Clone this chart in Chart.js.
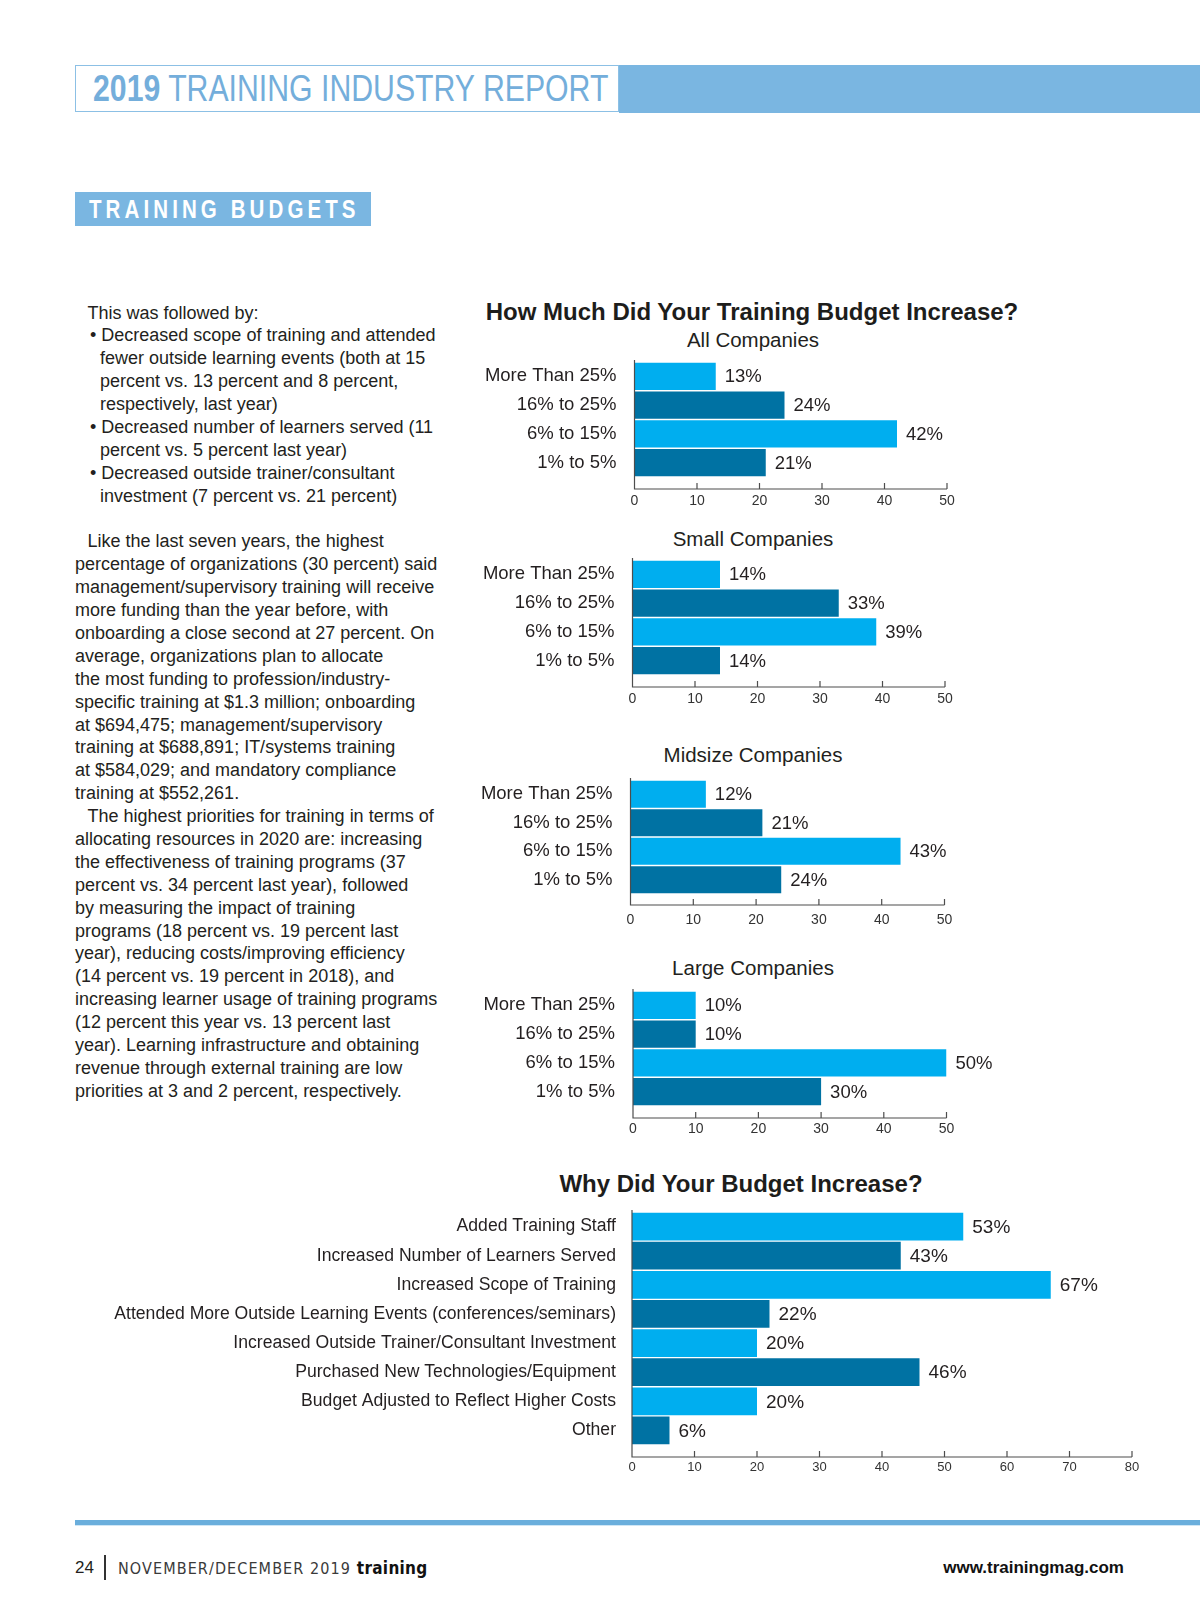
<!DOCTYPE html>
<html>
<head>
<meta charset="utf-8">
<title>2019 Training Industry Report - Training Budgets</title>
<script src="https://cdn.jsdelivr.net/npm/chart.js@4.4.1/dist/chart.umd.min.js"></script>
<style>
  html, body { margin: 0; padding: 0; background: #fff; }
  #page { position: relative; width: 1200px; height: 1613px; overflow: hidden; color: #231f20;
          font-family: "Liberation Sans", Arial, sans-serif; }
  .abs { position: absolute; white-space: nowrap; }
  canvas { position: absolute; }
  /* no narrow face installed: squeeze the regular one */
  .cond { transform: scaleX(0.82); transform-origin: 0 50%; }

  #hdrBox { left: 75px; top: 65px; width: 542px; height: 45px; border: 1.5px solid #8cc0e5; background: #fff; }
  #hdrBar { left: 619px; top: 65px; width: 581px; height: 48px; background: #7ab6e1; }
  #hdrText { left: 93px; top: 65px; height: 48px; line-height: 48px; font-size: 36px; color: #74aedb;
             transform: scaleX(0.84); }
  #hdrText b { font-weight: bold; }

  #secBox { left: 75px; top: 192px; width: 296px; height: 34px; background: #7ab6e1; }
  #secText { left: 89px; top: 192px; height: 34px; line-height: 35px; font-size: 25px; font-weight: bold;
             color: #fff; letter-spacing: 5px; }

  #body { left: 75px; top: 301.5px; font-size: 18px; line-height: 22.9px; color: #231f20; }
  #body div { height: 22.9px; }
  #body .ind0 { padding-left: 12.5px; }
  #body .bul { padding-left: 15px; }
  #body .cont { padding-left: 25px; }

  .title { font-weight: bold; font-size: 24px; color: #1d1d1b; text-align: center; line-height: 30px; }
  .sub { font-size: 20.5px; text-align: center; width: 300px; line-height: 26px; }

  #rule { left: 75px; top: 1520px; width: 1125px; height: 5px; background: #6aaedc; border-bottom: 1px solid #cfe6f5; }
  .foot { top: 1556px; line-height: 24px; height: 24px; }
</style>
</head>
<body>
<div id="page">
  <div class="abs" id="hdrBox"></div>
  <div class="abs" id="hdrBar"></div>
  <div class="abs cond" id="hdrText"><b>2019</b> TRAINING INDUSTRY REPORT</div>

  <div class="abs" id="secBox"></div>
  <div class="abs cond" id="secText">TRAINING BUDGETS</div>

  <div class="abs" id="body">
    <div class="ind0">This was followed by:</div>
    <div class="bul">• Decreased scope of training and attended</div>
    <div class="cont">fewer outside learning events (both at 15</div>
    <div class="cont">percent vs. 13 percent and 8 percent,</div>
    <div class="cont">respectively, last year)</div>
    <div class="bul">• Decreased number of learners served (11</div>
    <div class="cont">percent vs. 5 percent last year)</div>
    <div class="bul">• Decreased outside trainer/consultant</div>
    <div class="cont">investment (7 percent vs. 21 percent)</div>
    <div></div>
    <div class="ind0">Like the last seven years, the highest</div>
    <div>percentage of organizations (30 percent) said</div>
    <div>management/supervisory training will receive</div>
    <div>more funding than the year before, with</div>
    <div>onboarding a close second at 27 percent. On</div>
    <div>average, organizations plan to allocate</div>
    <div>the most funding to profession/industry-</div>
    <div>specific training at $1.3 million; onboarding</div>
    <div>at $694,475; management/supervisory</div>
    <div>training at $688,891; IT/systems training</div>
    <div>at $584,029; and mandatory compliance</div>
    <div>training at $552,261.</div>
    <div class="ind0">The highest priorities for training in terms of</div>
    <div>allocating resources in 2020 are: increasing</div>
    <div>the effectiveness of training programs (37</div>
    <div>percent vs. 34 percent last year), followed</div>
    <div>by measuring the impact of training</div>
    <div>programs (18 percent vs. 19 percent last</div>
    <div>year), reducing costs/improving efficiency</div>
    <div>(14 percent vs. 19 percent in 2018), and</div>
    <div>increasing learner usage of training programs</div>
    <div>(12 percent this year vs. 13 percent last</div>
    <div>year). Learning infrastructure and obtaining</div>
    <div>revenue through external training are low</div>
    <div>priorities at 3 and 2 percent, respectively.</div>
  </div>

  <div class="abs title" style="left:452px; top:297px; width:600px;">How Much Did Your Training Budget Increase?</div>
  <div class="abs sub" style="left:603px; top:327px;">All Companies</div>
  <div class="abs sub" style="left:603px; top:526px;">Small Companies</div>
  <div class="abs sub" style="left:603px; top:742px;">Midsize Companies</div>
  <div class="abs sub" style="left:603px; top:955px;">Large Companies</div>

  <canvas id="cAll"></canvas>
  <canvas id="cSmall"></canvas>
  <canvas id="cMid"></canvas>
  <canvas id="cLarge"></canvas>

  <div class="abs title" style="left:441px; top:1169px; width:600px;">Why Did Your Budget Increase?</div>
  <canvas id="cWhy"></canvas>

  <div class="abs" id="rule"></div>
  <div class="abs foot" style="left:75px; font-size:17px;">24</div>
  <div class="abs" style="left:104px; top:1555px; width:1.5px; height:25px; background:#333;"></div>
  <div class="abs foot" style="left:118px; font-family:'DejaVu Sans Condensed', sans-serif; font-size:16px; letter-spacing:1.1px; color:#3a3a3a;">NOVEMBER/DECEMBER 2019 <b style="color:#111; letter-spacing:0.3px; font-size:17px;">training</b></div>
  <div class="abs foot" style="right:76px; font-size:17px; font-weight:bold; color:#111;">www.trainingmag.com</div>
</div>

<script>
// ── data ──
var budgetLabels = ['More Than 25%', '16% to 25%', '6% to 15%', '1% to 5%'];
var allCompanies = [13, 24, 42, 21];
var smallCompanies = [14, 33, 39, 14];
var midsizeCompanies = [12, 21, 43, 24];
var largeCompanies = [10, 10, 50, 30];
var budgetTicks = [0, 10, 20, 30, 40, 50];

var reasonLabels = [
  'Added Training Staff',
  'Increased Number of Learners Served',
  'Increased Scope of Training',
  'Attended More Outside Learning Events (conferences/seminars)',
  'Increased Outside Trainer/Consultant Investment',
  'Purchased New Technologies/Equipment',
  'Budget Adjusted to Reflect Higher Costs',
  'Other'
];
var reasonValues = [53, 43, 67, 22, 20, 46, 20, 6];
var reasonTicks = [0, 10, 20, 30, 40, 50, 60, 70, 80];

var LIGHT = '#00aeef';
var DARK = '#0072a3';
var SANS = '"Liberation Sans", Arial, sans-serif';

/* axis frame: left line, bottom line a little below the bars, ticks pointing up */
var axisFrame = {
  id: 'axisFrame',
  afterDraw: function(chart, args, opts) {
    var ctx = chart.ctx, area = chart.chartArea, xs = chart.scales.x;
    var axisY = area.bottom + opts.gap;
    ctx.save();
    ctx.strokeStyle = '#4d4d4d';
    ctx.lineWidth = 1.2;
    ctx.beginPath();
    ctx.moveTo(area.left, area.top - 2);
    ctx.lineTo(area.left, axisY);
    ctx.lineTo(area.right, axisY);
    xs.ticks.forEach(function(t) {
      var px = xs.getPixelForValue(t.value);
      ctx.moveTo(px, axisY);
      ctx.lineTo(px, axisY - 6);
    });
    ctx.stroke();
    ctx.restore();
  }
};

/* percent labels at the end of each bar */
var valueLabels = {
  id: 'valueLabels',
  afterDatasetsDraw: function(chart, args, opts) {
    var ctx = chart.ctx;
    var meta = chart.getDatasetMeta(0);
    var data = chart.data.datasets[0].data;
    ctx.save();
    ctx.font = opts.size + 'px ' + SANS;
    ctx.fillStyle = '#231f20';
    ctx.textAlign = 'left';
    ctx.textBaseline = 'middle';
    meta.data.forEach(function(bar, i) {
      ctx.fillText(data[i] + '%', bar.x + opts.gap, bar.y + 1);
    });
    ctx.restore();
  }
};

function makeChart(id, labels, values, ticks, box) {
  var canvas = document.getElementById(id);
  var cw = box.right - box.left;
  var ch = box.barsBottom - box.barsTop + 2 + 40;
  canvas.width = cw;
  canvas.height = ch;
  canvas.style.left = box.left + 'px';
  canvas.style.top = (box.barsTop - 2) + 'px';
  canvas.style.width = cw + 'px';
  canvas.style.height = ch + 'px';

  var tickFont = box.tickSize;
  return new Chart(canvas, {
    type: 'bar',
    data: {
      labels: labels,
      datasets: [{
        data: values,
        backgroundColor: values.map(function(v, i) { return i % 2 ? DARK : LIGHT; }),
        barPercentage: 0.95,
        categoryPercentage: 1
      }]
    },
    options: {
      indexAxis: 'y',
      responsive: false,
      animation: false,
      layout: { padding: { left: 0, top: 2, right: box.right - box.endX, bottom: 0 } },
      plugins: {
        legend: { display: false },
        tooltip: { enabled: false },
        axisFrame: { gap: box.gap },
        valueLabels: { gap: 9, size: box.valueSize }
      },
      scales: {
        x: {
          type: 'linear',
          min: ticks[0],
          max: ticks[ticks.length - 1],
          afterBuildTicks: function(s) { s.ticks = ticks.map(function(v) { return { value: v }; }); },
          afterFit: function(s) { s.height = 40; s.paddingLeft = 0; s.paddingRight = 0; },
          grid: { display: false, drawTicks: false },
          border: { display: false },
          ticks: {
            color: '#333',
            font: { family: SANS, size: tickFont },
            padding: box.labelOffset - tickFont * 0.6,
            maxRotation: 0
          }
        },
        y: {
          type: 'category',
          afterFit: function(s) { s.width = box.axisX - box.left; s.paddingTop = 0; s.paddingBottom = 0; },
          grid: { display: false, drawTicks: false },
          border: { display: false },
          ticks: {
            color: '#231f20',
            font: { family: SANS, size: box.labelSize },
            padding: box.labelPad
          }
        }
      }
    },
    plugins: [axisFrame, valueLabels]
  });
}

var small = { left: 440, right: 1020, gap: 12, labelOffset: 24, tickSize: 14, valueSize: 18.5,
              labelSize: 18.5, labelPad: 18 };
function box(base, extra) {
  var o = {}, k;
  for (k in base) o[k] = base[k];
  for (k in extra) o[k] = extra[k];
  return o;
}

makeChart('cAll', budgetLabels, allCompanies, budgetTicks,
  box(small, { barsTop: 362, barsBottom: 477, axisX: 634.5, endX: 947 }));
makeChart('cSmall', budgetLabels, smallCompanies, budgetTicks,
  box(small, { barsTop: 559.5, barsBottom: 674.5, axisX: 632.5, endX: 945 }));
makeChart('cMid', budgetLabels, midsizeCompanies, budgetTicks,
  box(small, { barsTop: 780, barsBottom: 894, axisX: 630.5, endX: 944.5, gap: 11, labelOffset: 26 }));
makeChart('cLarge', budgetLabels, largeCompanies, budgetTicks,
  box(small, { barsTop: 991, barsBottom: 1106, axisX: 633, endX: 946.5, labelOffset: 23 }));

makeChart('cWhy', reasonLabels, reasonValues, reasonTicks, {
  left: 60, right: 1200, barsTop: 1212, barsBottom: 1445, axisX: 632, endX: 1132,
  gap: 12, labelOffset: 22, tickSize: 13, valueSize: 19,
  labelSize: 17.6, labelPad: 16
});
</script>
</body>
</html>
